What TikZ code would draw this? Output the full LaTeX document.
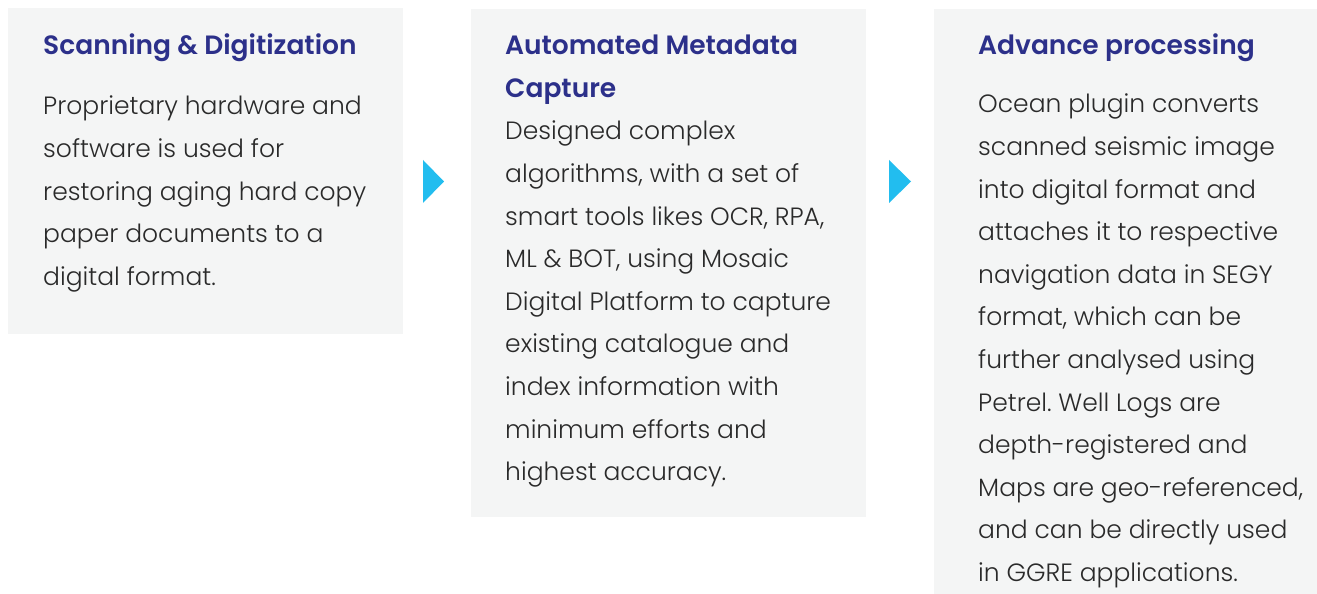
\documentclass[tikz,border=0pt]{standalone}
\usepackage{fontspec}
\IfFontExistsTF{Poppins Light}{\newfontfamily\bodyfont{Poppins Light}}{\newfontfamily\bodyfont{Poppins}}
\IfFontExistsTF{Poppins SemiBold}{\newfontfamily\titlefont{Poppins SemiBold}}{\newfontfamily\titlefont{Poppins}[FakeBold=1.5]}
\frenchspacing
\definecolor{boxgray}{HTML}{F4F5F5}
\definecolor{titleblue}{HTML}{2C308A}
\definecolor{arrowblue}{HTML}{22BDEF}
\definecolor{bodytext}{HTML}{2A2A2A}
\tikzset{
  panel/.style={fill=boxgray, draw=none},
  ttl/.style={anchor=base west, inner sep=0pt, text=titleblue, font=\titlefont\fontsize{26.5}{42.6}\selectfont, align=left},
  body/.style={anchor=base west, inner sep=0pt, text=bodytext, font=\bodyfont\fontsize{25}{42.6}\selectfont\frenchspacing, align=left},
  tri/.style={fill=arrowblue, draw=none}
}
\begin{document}
\begin{tikzpicture}[x=1pt,y=1pt]
\useasboundingbox (0,0) rectangle (1317,594);
\fill[white] (0,0) rectangle (1317,594);
\path[panel] (8,260) rectangle (403,586);
\path[panel] (471,77) rectangle (866,585);
\path[panel] (934,0) rectangle (1317,585);
\path[tri] (423,434) -- (423,391) -- (444,412.5) -- cycle;
\path[tri] (889,434) -- (889,391) -- (911,412.5) -- cycle;
% base anchors sit on the last line of each node
\node[ttl] (t1) at (43,539) {Scanning \& Digitization};
\node[body] (b1) at (43,308.6) {Proprietary hardware and\\software is used for\\restoring aging hard copy\\paper documents to a\\digital format.};
\node[ttl] (t2) at (505,496.6) {Automated Metadata\\Capture};
\node[body] (b2) at (505,113.2) {Designed complex\\algorithms, with a set of\\smart tools likes OCR, RPA,\\ML \& BOT, using Mosaic\\Digital Platform to capture\\existing catalogue and\\index information with\\minimum efforts and\\highest accuracy.};
\node[ttl] (t3) at (978,539) {Advance processing};
\node[body] (b3) at (978,12.4) {Ocean plugin converts\\scanned seismic image\\into digital format and\\attaches it to respective\\navigation data in SEGY\\format, which can be\\further analysed using\\Petrel.\ Well Logs are\\depth-registered and\\Maps are geo-referenced,\\and can be directly used\\in GGRE applications.};
\end{tikzpicture}
\end{document}
